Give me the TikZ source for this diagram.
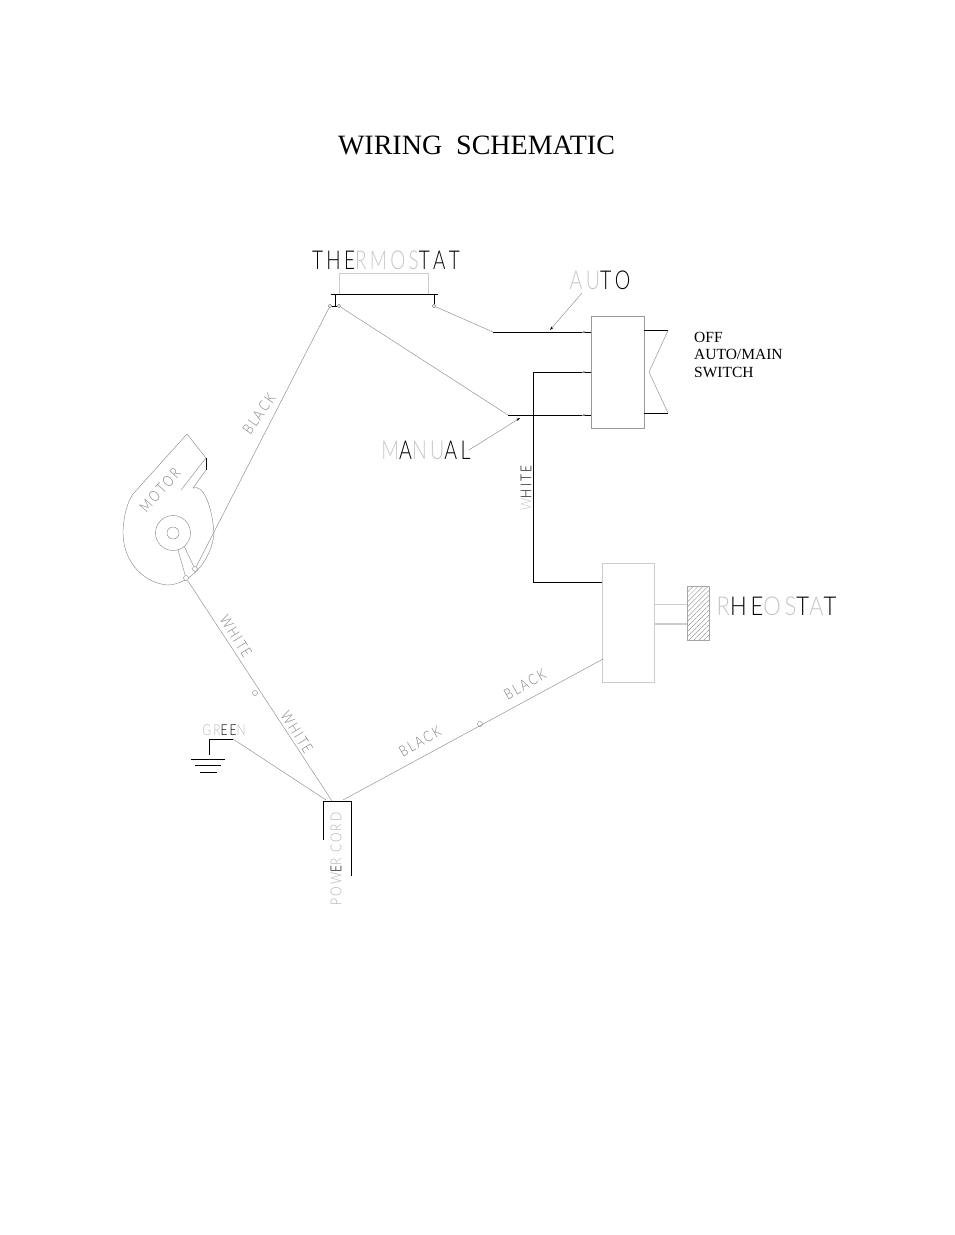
\documentclass[tikz,border=0pt]{standalone}
\usepackage{fontspec}
\setmainfont{Liberation Serif}
\newfontfamily\cadfont[FakeStretch=.8,LetterSpace=14,Kerning=Off]{Lato Light}
\usepackage{tikz}
\usetikzlibrary{positioning,calc,patterns.meta,arrows.meta}
\newcommand{\faint}[1]{\textcolor{gray!45}{#1}}
\tikzset{
    wire/.style={gray!90, line width=0.45pt},
    heavy/.style={black, line width=0.9pt},
    faintbox/.style={draw=gray!40, line width=0.6pt, inner sep=0pt},
    term/.style={circle, draw=gray, line width=0.4pt, fill=white, minimum size=5pt, inner sep=0pt},
    smallterm/.style={term, minimum size=3.5pt},
    leader/.style={wire, -{Stealth[length=4pt,width=2.5pt,color=black]}},
    biglabel/.style={font=\cadfont\fontsize{26}{26}\selectfont, inner sep=0pt},
    smalllabel/.style={font=\cadfont\fontsize{15}{15}\selectfont, inner sep=0pt, text=gray}
}
\begin{document}
\begin{tikzpicture}[x=1pt, y=-1pt]
    \useasboundingbox (0,0) rectangle (954,1235);

    \node[font=\fontsize{28}{28}\selectfont, inner sep=0pt] (title) at (476.5,145) {WIRING\ \ SCHEMATIC};

    % thermostat
    \node[biglabel] (thlabel) at (386,260) {\scalebox{.91}[1]{THE\faint{RMOS}TAT}};
    \node[faintbox, minimum width=89pt, minimum height=21pt] (thbox) at (383.5,283.5) {};
    \coordinate (thbarl) at (331,294);
    \coordinate (thbarr) at (438,294);
    \draw[heavy] (thbarl) -- (thbarr);
    \node[smallterm] (tha) at (330,306) {};
    \node[smallterm] (thb) at (339,306) {};
    \node[smallterm] (thc) at (434,306) {};
    \draw[heavy] (tha) -- (thb);
    \draw[heavy] (335,294) -- (335,306);
    \draw[heavy] (434,294) -- (thc);

    % switch
    \node[draw=gray!80, line width=0.6pt, minimum width=53pt, minimum height=112pt, inner sep=0pt] (switch) at (617.5,372) {};
    \coordinate (autoin) at (493,332);
    \coordinate (manin) at (508,415);
    \coordinate (swa) at (591,332);
    \coordinate (swb) at (591,372);
    \coordinate (swc) at (591,415);
    \coordinate (bend) at (533,372);
    \coordinate (rhin) at (603,582);
    \draw[wire] (thc) -- (autoin);
    \draw[wire] (thb) -- (manin);
    \draw[heavy] (autoin) -- (swa);
    \draw[heavy] (manin) -- (swc);
    \draw[heavy] (swb) -- (bend) |- (rhin);
    \foreach \p in {swa,swb,swc}
        \draw[gray, line width=0.5pt, -{Stealth[length=3pt,width=2pt]}] ($(\p)+(-9,0)$) -- ($(\p)+(-5,0)$);
    \coordinate (swra) at (644,330.5);
    \coordinate (swrb) at (668,330.5);
    \coordinate (swrc) at (649,372);
    \coordinate (swrd) at (668,413);
    \coordinate (swre) at (644,413);
    \draw[heavy] (swra) -- (swrb);
    \draw[wire] (swrb) -- (swrc) -- (swrd);
    \draw[heavy] (swrd) -- (swre);
    \node[font=\fontsize{15.5}{17.5}\selectfont, align=left, inner sep=0pt, anchor=north west] (swlabel) at (694,332) {OFF\\AUTO/MAIN\\SWITCH};

    \node[biglabel] (autolabel) at (600,280) {\scalebox{.94}[1]{\faint{AU}TO}};
    \coordinate (autotip) at (550,330);
    \draw[leader] (582,293) -- (autotip);
    \node[biglabel] (manlabel) at (426,450) {\scalebox{.94}[1]{\faint{M}A\faint{NU}AL}};
    \coordinate (mantip) at (520,418);
    \draw[leader] (469,450) -- (mantip);
    \node[smalllabel, rotate=90, text=black] (whitev) at (526,488) {\faint{W}HITE};

    % rheostat
    \node[faintbox, minimum width=52pt, minimum height=119pt] (rheo) at (628,622.5) {};
    \node[draw=gray!70, line width=0.4pt, pattern={Lines[angle=45,distance=3.5pt,line width=.35pt]}, pattern color=gray, minimum width=22pt, minimum height=54pt, inner sep=0pt] (knob) at (698,613) {};
    \draw[gray!40, line width=0.6pt] (654,604) -- (687,604);
    \draw[gray!40, line width=1.1pt] (654,624) -- (687,624);
    \node[biglabel] (rhlabel) at (776.5,606) {\scalebox{1.06}[1]{\faint{R}HE\faint{OS}T\faint{A}T}};

    % motor
    \draw[wire] (187,434) -- (206,458) -- (181,490);
    \draw[heavy] (206,458) -- (206,470);
    \draw[wire] (206,470) -- (193,488)
        .. controls (203,484) and (212,505) .. (214,533)
        .. controls (212,560) and (190,585) .. (167,585)
        .. controls (140,582) and (122,558) .. (123,530)
        .. controls (124,515) and (127,503) .. (133,494) -- (187,434);
    \node[circle, draw=gray!90, line width=0.45pt, minimum size=35pt, inner sep=0pt] (hub) at (173,533) {};
    \node[circle, draw=gray!90, line width=0.45pt, minimum size=12pt, inner sep=0pt] (shaft) at (173,533) {};
    \node[term] (mota) at (186,578) {};
    \node[term] (motb) at (195,569) {};
    \draw[wire] (178,550) -- (mota);
    \draw[wire] (184,546) -- (motb);
    \node[smalllabel, rotate=48] (motlabel) at (160,490) {MOTOR};
    \draw[wire] (motb) -- (tha);
    \node[smalllabel, rotate=55] (blk) at (259,414) {BLACK};

    % power cord
    \coordinate (cordl) at (323,801);
    \coordinate (cordr) at (351,801);
    \draw[heavy] (323,840) -- (cordl) -- (cordr) -- (351,876);
    \node[smalllabel, rotate=90, text=gray!60] (cordlabel) at (336,859) {POW\textcolor{black}{E}R CORD};
    \node[term] (spa) at (255,693) {};
    \node[term] (spb) at (480,724) {};
    \coordinate (cordw) at (332,801);
    \coordinate (cordg) at (326,800);
    \coordinate (cordb) at (343,800);
    \coordinate (rhout) at (603,659);
    \draw[wire] (mota) -- (cordw);
    \draw[wire] (cordb) -- (rhout);
    \node[smalllabel, rotate=-58] (wha) at (236,636) {WHITE};
    \node[smalllabel, rotate=-58] (whb) at (297,732) {WHITE};
    \node[smalllabel, rotate=30] (bka) at (420,741) {BLACK};
    \node[smalllabel, rotate=30] (bkb) at (525,684) {BLACK};

    % ground
    \node[smalllabel, text=gray!55] (grn) at (224,730) {GR\textcolor{black}{EE}N};
    \coordinate (gnda) at (233,739);
    \coordinate (gndb) at (209,739);
    \coordinate (gndc) at (209,755);
    \draw[wire] (gnda) -- (cordg);
    \draw[heavy] (gnda) -- (gndb) -- (gndc);
    \draw[heavy] (191,759) -- (225,759);
    \draw[heavy] (195,765) -- (221,765);
    \draw[heavy] (200,772) -- (217,772);
\end{tikzpicture}
\end{document}
